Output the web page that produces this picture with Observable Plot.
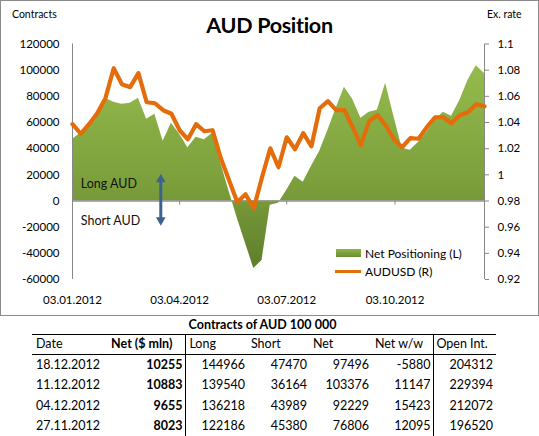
<!DOCTYPE html>
<html><head><meta charset="utf-8">
<script src="https://cdn.jsdelivr.net/npm/d3@7"></script>
<script src="https://cdn.jsdelivr.net/npm/@observablehq/plot@0.6"></script>
<style>
html,body{margin:0;padding:0;background:#fff;}
body{width:539px;height:436px;overflow:hidden;position:relative;font-family:Lato,"Open Sans",sans-serif;color:#000;}
#box{position:absolute;left:0;top:0;width:539px;height:316px;box-sizing:border-box;border:1px solid #8a8a8a;}
#chart{position:absolute;left:0;top:0;}
.abs{position:absolute;white-space:nowrap;line-height:1;}
#title{left:0;width:537px;text-align:center;top:13.5px;font-size:21.5px;font-weight:bold;letter-spacing:-0.3px;}
.unit{font-size:10.5px;top:7.5px;}
.leg{font-size:12px;}
#ttitle{left:32px;width:461px;text-align:center;top:318.5px;font-size:12.5px;font-weight:bold;}
table{position:absolute;left:32px;top:334px;border-collapse:collapse;table-layout:fixed;font-size:12.5px;}
td,th{padding:0 3px;white-space:nowrap;font-weight:normal;line-height:1;}
thead tr{height:20px;border-top:1.5px solid #000;border-bottom:1.5px solid #000;}
tbody tr{height:20.5px;}
.l{text-align:left;} .r{text-align:right;} .b{font-weight:bold;}
.vr{border-right:1px solid #000;}
</style></head>
<body>
<div id="box">
  <div id="chart"></div>
  <div class="abs" id="title">AUD Position</div>
  <div class="abs unit" style="left:11px;">Contracts</div>
  <div class="abs unit" style="left:486px;">Ex. rate</div>
  <div class="abs" style="left:335px;top:248px;width:25px;height:8px;background:linear-gradient(#8db545,#6a8c33);"></div>
  <div class="abs leg" style="left:364px;top:246.5px;">Net Positioning (L)</div>
  <div class="abs" style="left:334px;top:269px;width:26px;height:3px;background:#E46C0A;"></div>
  <div class="abs leg" style="left:364px;top:264.5px;">AUDUSD (R)</div>
</div>
<div class="abs" id="ttitle">Contracts of AUD 100 000</div>
<table id="tbl"></table>
<script>
// weekly observation dates
const dates = ["2012-01-03","2012-01-10","2012-01-17","2012-01-24","2012-01-31",
"2012-02-07","2012-02-14","2012-02-21","2012-02-28",
"2012-03-06","2012-03-13","2012-03-20","2012-03-27",
"2012-04-03","2012-04-10","2012-04-17","2012-04-24",
"2012-05-01","2012-05-08","2012-05-15","2012-05-22","2012-05-29",
"2012-06-05","2012-06-12","2012-06-19","2012-06-26",
"2012-07-03","2012-07-10","2012-07-17","2012-07-24","2012-07-31",
"2012-08-07","2012-08-14","2012-08-21","2012-08-28",
"2012-09-04","2012-09-11","2012-09-18","2012-09-25",
"2012-10-02","2012-10-09","2012-10-16","2012-10-23","2012-10-30",
"2012-11-06","2012-11-13","2012-11-20","2012-11-27",
"2012-12-04","2012-12-11","2012-12-18"];
// Net positioning, contracts (left axis)
const netPositioning = [47200,51800,58700,67800,78500,75500,74000,74700,78500,62500,
66300,45700,59400,51000,40700,48700,46800,51800,28800,7400,
-13200,-32400,-51500,-45400,-3300,-1800,8200,18900,14300,26500,
38000,54100,70900,87000,77800,63200,67800,69400,90000,64800,
40300,38800,44900,52500,61700,67800,64711,76806,92229,103376,97496];
// AUDUSD exchange rate (right axis)
const audusd = [1.0387,1.0314,1.0387,1.0471,1.0586,1.0815,1.0693,1.067,1.0777,1.0555,
1.0547,1.0494,1.0467,1.0341,1.0272,1.0387,1.0333,1.0341,1.0127,0.9958,
0.979,0.9851,0.9744,0.9981,1.0203,1.0058,1.0287,1.0196,1.0318,1.0218,
1.0509,1.0563,1.0494,1.0494,1.0364,1.0226,1.041,1.0456,1.0379,1.0272,
1.0211,1.028,1.0276,1.0364,1.044,1.044,1.0394,1.0456,1.0479,1.054,1.0524];
const leftTicks = [-60000,-40000,-20000,0,20000,40000,60000,80000,100000,120000];
const rateTicks = [0.92,0.94,0.96,0.98,1,1.02,1.04,1.06,1.08,1.1];
const dateTicks = ["2012-01-03","2012-04-03","2012-07-03","2012-10-03"];
const labels = [{date:"2012-01-10", y:12800, text:"Long AUD"},{date:"2012-01-10", y:-15500, text:"Short AUD"}];
const arrowDate = "2012-03-18";
const arrowHeads = [{y:16400, rotate:0},{y:-14600, rotate:180}];

// table
const tDates = ["18.12.2012","11.12.2012","04.12.2012","27.11.2012"];
const tNetMln = [10255,10883,9655,8023];
const tLong = [144966,139540,136218,122186];
const tShort = [47470,36164,43989,45380];
const tNet = [97496,103376,92229,76806];
const tNetWw = [-5880,11147,15423,12095];
const tOpen = [204312,229394,212072,196520];
const headers = ["Date","Net ($ mln)","Long","Short","Net","Net w/w","Open Int."];

const data = dates.map((d,i)=>({date:new Date(d), net:netPositioning[i], rate:audusd[i]}));
const rateToY = d3.scaleLinear().domain([0.92,1.1]).range([-60000,120000]);
const gray = "#878787";

const plot = Plot.plot({
  width:537, height:314,
  marginLeft:71, marginRight:54, marginTop:42.5, marginBottom:36,
  style:{fontFamily:"Lato, sans-serif", fontSize:"11.5px", color:"#000", background:"transparent", overflow:"visible"},
  x:{type:"utc", domain:[data[0].date, data[data.length-1].date]},
  y:{domain:[-60000,120000]},
  marks:[
    Plot.areaY(data,{x:"date", y:"net", fill:"url(#netGrad)", curve:"linear"}),
    Plot.ruleY([0],{stroke:"#909090", strokeWidth:1.6}),
    Plot.ruleX(dateTicks.map(d=>new Date(d)),{y1:0, y2:0, insetBottom:-4, stroke:gray}),
    Plot.ruleX([data[0].date],{stroke:gray}),
    Plot.ruleX([data[data.length-1].date],{stroke:gray}),
    Plot.line(data,{x:"date", y:d=>rateToY(d.rate), stroke:"#E46C0A", strokeWidth:4.2, strokeLinejoin:"round", strokeLinecap:"round"}),
    Plot.text(labels,{x:d=>new Date(d.date), y:"y", text:"text", textAnchor:"start", fontSize:12.5, fill:"#111"}),
    Plot.ruleX([new Date(arrowDate)],{y1:arrowHeads[1].y, y2:arrowHeads[0].y, stroke:"#3d6190", strokeWidth:3}),
    Plot.dot(arrowHeads,{x:()=>new Date(arrowDate), y:"y", rotate:"rotate", symbol:"triangle", r:3.6, fill:"#3d6190", stroke:"none"}),
    Plot.axisY({anchor:"left", ticks:leftTicks, tickFormat:d=>String(d), tickSize:0, tickPadding:13, label:null}),
    Plot.axisY({anchor:"right", ticks:rateTicks.map(rateToY), tickFormat:v=>String(+rateToY.invert(v).toFixed(2)), tickSize:4, tickPadding:9, stroke:gray, fill:"#000", label:null}),
    Plot.axisX({ticks:dateTicks.map(d=>new Date(d)), tickFormat:d3.utcFormat("%d.%m.%Y"), tickSize:0, tickPadding:16, label:null})
  ]
});
const svg = d3.select(plot);
const grad = svg.insert("defs",":first-child").append("linearGradient")
  .attr("id","netGrad").attr("x1",0).attr("y1",0).attr("x2",0).attr("y2",1);
[[0,"#95bb4d"],[0.6,"#7b9e3b"],[1,"#5e7e2b"]].forEach(([o,c])=>grad.append("stop").attr("offset",o).attr("stop-color",c));
document.getElementById("chart").appendChild(plot);

// build table
const tbl = d3.select("#tbl");
const colW = [68,83,62,62,62,62,62];
tbl.append("colgroup").selectAll("col").data(colW).join("col").style("width",d=>d+"px");
const hr = tbl.append("thead").append("tr");
const hClass = ["l","r b vr","l","l","l","l vr","l"];
headers.forEach((h,i)=>{
  const th = hr.append("th").attr("class",hClass[i]).text(h);
  if(i===1) th.style("padding-right","13px");
  if(i===0) th.style("padding-left","4px");
  if(i===6) th.style("padding-left","2px");
});
const tb = tbl.append("tbody");
tDates.forEach((d,i)=>{
  const tr = tb.append("tr");
  tr.append("td").attr("class","l").style("padding-left","4px").text(d);
  tr.append("td").attr("class","r b vr").text(tNetMln[i]);
  tr.append("td").attr("class","r").text(tLong[i]);
  tr.append("td").attr("class","r").text(tShort[i]);
  tr.append("td").attr("class","r").text(tNet[i]);
  tr.append("td").attr("class","r vr").text(tNetWw[i]);
  tr.append("td").attr("class","r").text(tOpen[i]);
});
</script>
</body></html>
